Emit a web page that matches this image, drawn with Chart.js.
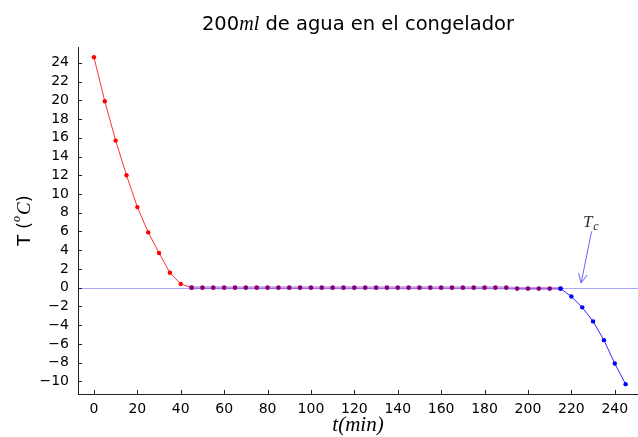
<!DOCTYPE html>
<html>
<head>
<meta charset="utf-8">
<script src="https://cdn.jsdelivr.net/npm/chart.js@4"></script>
<style>
  html, body { margin: 0; padding: 0; background: #fff; }
  canvas { display: block; }
</style>
</head>
<body>
<canvas id="freezeChart" width="638" height="437"></canvas>
<script>
// Data: time in minutes, temperature in degrees C
const tCooling = [0, 5, 10, 15, 20, 25, 30, 35, 40, 45];
const tempCooling = [24.6, 19.9, 15.7, 12.0, 8.6, 5.9, 3.7, 1.6, 0.4, 0.0];

const tPlateau = [45, 50, 55, 60, 65, 70, 75, 80, 85, 90, 95, 100, 105, 110, 115, 120,
  125, 130, 135, 140, 145, 150, 155, 160, 165, 170, 175, 180, 185, 190, 195, 200, 205, 210, 215];
const tempPlateau = [0, 0, 0, 0, 0, 0, 0, 0, 0, 0, 0, 0, 0, 0, 0, 0,
  0, 0, 0, 0, 0, 0, 0, 0, 0, 0, 0, 0, 0, 0, -0.1, -0.1, -0.1, -0.1, -0.1];

const tFrozen = [215, 220, 225, 230, 235, 240, 245];
const tempFrozen = [-0.1, -0.95, -2.1, -3.6, -5.6, -8.1, -10.3];

const freezeLine = 0; // T_c reference
const xTickStep = 20;
const yTickStep = 2;

// annotation (data units)
const tcArrowFrom = [229.3, 6.0];
const tcArrowTo = [224.5, 0.5];
const tcLabelAt = [225.3, 6.5];

function toPoints(xs, ys) {
  return xs.map((x, i) => ({ x: x, y: ys[i] }));
}

// Draws title, axis titles, inward ticks, T_c line and arrow
const decorPlugin = {
  id: "decor",
  beforeDatasetsDraw(chart) {
    const ctx = chart.ctx;
    const area = chart.chartArea;
    const yS = chart.scales.y;
    const y0 = Math.round(yS.getPixelForValue(freezeLine)) + 0.5;
    ctx.save();
    ctx.strokeStyle = "rgba(110,110,255,0.6)";
    ctx.lineWidth = 1;
    ctx.beginPath();
    ctx.moveTo(area.left, y0);
    ctx.lineTo(area.right, y0);
    ctx.stroke();
    ctx.restore();
  },
  afterDraw(chart) {
    const ctx = chart.ctx;
    const area = chart.chartArea;
    const xS = chart.scales.x;
    const yS = chart.scales.y;
    ctx.save();

    // inward tick marks
    ctx.strokeStyle = "#222";
    ctx.lineWidth = 1;
    ctx.beginPath();
    yS.ticks.forEach((t) => {
      const py = Math.round(yS.getPixelForValue(t.value)) + 0.5;
      ctx.moveTo(area.left, py);
      ctx.lineTo(area.left + 4, py);
    });
    xS.ticks.forEach((t) => {
      const px = Math.round(xS.getPixelForValue(t.value)) + 0.5;
      ctx.moveTo(px, area.bottom);
      ctx.lineTo(px, area.bottom - 4);
    });
    ctx.stroke();

    ctx.fillStyle = "#000";
    ctx.textBaseline = "alphabetic";
    ctx.textAlign = "left";

    // title: 200ml de agua en el congelador
    const sans19 = "19.5px 'DejaVu Sans'";
    const ital19 = "italic 20px 'Liberation Serif'";
    const parts = [["200", sans19], ["ml", ital19], [" de agua en el congelador", sans19]];
    let w = 0;
    parts.forEach((p) => { ctx.font = p[1]; w += ctx.measureText(p[0]).width; });
    let x = (area.left + area.right) / 2 - w / 2;
    parts.forEach((p) => {
      ctx.font = p[1];
      ctx.fillText(p[0], x, 30);
      x += ctx.measureText(p[0]).width;
    });

    // x axis title
    ctx.font = "italic 21px 'Liberation Serif'";
    ctx.textAlign = "center";
    ctx.fillText("t(min)", (area.left + area.right) / 2, 431);

    // y axis title: T (°C) rotated
    ctx.save();
    ctx.translate(30, (area.top + area.bottom) / 2);
    ctx.rotate(-Math.PI / 2);
    ctx.textAlign = "left";
    const yParts = [
      ["T (", "18px 'DejaVu Sans'", 0],
      ["o", "italic 12px 'Liberation Serif'", -10],
      ["C", "italic 19px 'Liberation Serif'", 0],
      [")", "18px 'DejaVu Sans'", 0],
    ];
    let yw = 0;
    yParts.forEach((p) => { ctx.font = p[1]; yw += ctx.measureText(p[0]).width + (p[0] === "o" ? 1 : 0); });
    let yx = -yw / 2;
    yParts.forEach((p) => {
      ctx.font = p[1];
      ctx.fillText(p[0], yx, p[2]);
      yx += ctx.measureText(p[0]).width + (p[0] === "o" ? 1 : 0);
    });
    ctx.restore();

    // T_c label and arrow
    const lx = xS.getPixelForValue(tcLabelAt[0]);
    const ly = yS.getPixelForValue(tcLabelAt[1]);
    ctx.fillStyle = "#333";
    ctx.textAlign = "left";
    ctx.font = "italic 17px 'Liberation Serif'";
    ctx.fillText("T", lx, ly);
    const tw = ctx.measureText("T").width;
    ctx.font = "italic 12px 'Liberation Serif'";
    ctx.fillText("c", lx + tw + 1, ly + 3);

    const ax0 = xS.getPixelForValue(tcArrowFrom[0]);
    const ay0 = yS.getPixelForValue(tcArrowFrom[1]);
    const ax1 = xS.getPixelForValue(tcArrowTo[0]);
    const ay1 = yS.getPixelForValue(tcArrowTo[1]);
    const ang = Math.atan2(ay1 - ay0, ax1 - ax0);
    const head = 10;
    ctx.strokeStyle = "#6464ff";
    ctx.lineWidth = 1;
    ctx.beginPath();
    ctx.moveTo(ax0, ay0);
    ctx.lineTo(ax1, ay1);
    ctx.moveTo(ax1 - head * Math.cos(ang - 0.45), ay1 - head * Math.sin(ang - 0.45));
    ctx.lineTo(ax1, ay1);
    ctx.lineTo(ax1 - head * Math.cos(ang + 0.45), ay1 - head * Math.sin(ang + 0.45));
    ctx.stroke();

    ctx.restore();
  },
};

const ctx = document.getElementById("freezeChart").getContext("2d");
const freezeChart = new Chart(ctx, {
  type: "line",
  data: {
    datasets: [
      {
        label: "enfriamiento",
        data: toPoints(tCooling, tempCooling),
        borderColor: "rgba(255,30,30,0.9)",
        backgroundColor: "#ff0000",
        borderWidth: 1,
        pointRadius: 2.2,
        pointBorderWidth: 0,
        order: 3,
      },
      {
        label: "meseta",
        data: toPoints(tPlateau, tempPlateau),
        borderColor: "rgba(140,40,170,0.45)",
        backgroundColor: "#800080",
        borderWidth: 3,
        pointRadius: 2.3,
        pointBorderWidth: 0,
        order: 2,
      },
      {
        label: "congelado",
        data: toPoints(tFrozen, tempFrozen),
        borderColor: "#2a2aff",
        backgroundColor: "#0000ff",
        borderWidth: 1,
        pointRadius: 2.2,
        pointBorderWidth: 0,
        order: 1,
      },
    ],
  },
  options: {
    responsive: false,
    animation: false,
    devicePixelRatio: 1,
    layout: { autoPadding: false, padding: { top: 47, right: 0, left: 0, bottom: 0 } },
    plugins: {
      legend: { display: false },
      title: { display: false },
      tooltip: { enabled: false },
    },
    scales: {
      x: {
        type: "linear",
        min: -7.35,
        max: 250.7,
        afterFit: (scale) => { scale.height = 43; },
        grid: { display: false, drawTicks: false },
        border: { display: true, color: "#222", width: 1 },
        ticks: {
          stepSize: xTickStep,
          includeBounds: false,
          padding: 7,
          color: "#000",
          font: { family: "'DejaVu Sans'", size: 14 },
          maxRotation: 0,
        },
      },
      y: {
        type: "linear",
        min: -11.35,
        max: 25.69,
        afterFit: (scale) => { scale.width = 78; },
        grid: { display: false, drawTicks: false },
        border: { display: true, color: "#222", width: 1 },
        ticks: {
          stepSize: yTickStep,
          includeBounds: false,
          padding: 9,
          color: "#000",
          font: { family: "'DejaVu Sans'", size: 14 },
          callback: (v) => (v < 0 ? "\u2212" + Math.abs(v) : String(v)),
        },
      },
    },
  },
  plugins: [decorPlugin],
});
</script>
</body>
</html>
